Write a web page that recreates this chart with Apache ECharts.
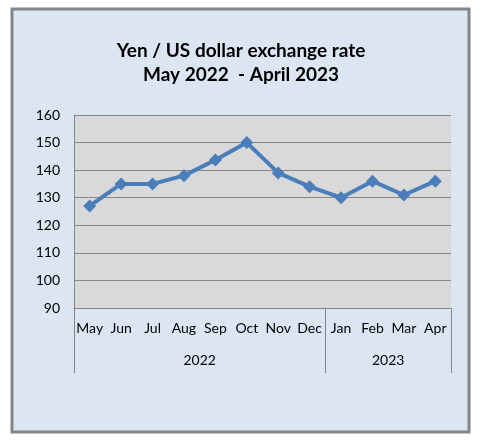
<!DOCTYPE html>
<html>
<head>
<meta charset="utf-8">
<script src="https://cdn.jsdelivr.net/npm/echarts@6/dist/echarts.min.js"></script>
<style>
  html, body { margin: 0; padding: 0; background: #fff; }
  #chart { width: 482px; height: 445px; }
</style>
</head>
<body>
<div id="chart"></div>
<script>
// 月份和汇率（从图上读出来的）
const months = ['May', 'Jun', 'Jul', 'Aug', 'Sep', 'Oct', 'Nov', 'Dec', 'Jan', 'Feb', 'Mar', 'Apr']
const rates = [127, 135, 135, 138, 143.7, 150, 139, 134, 130, 136, 131, 136]
// 第二层的年份，以及每年包含几个月
const years = ['2022', '2023']
const yearSpans = [8, 4]
const yTicks = [90, 100, 110, 120, 130, 140, 150, 160]

// 年份分隔线和年份标签的位置
let bounds = [0]
let centers = []
for (let i = 0; i < yearSpans.length; i++) {
  centers.push(bounds[i] + yearSpans[i] / 2)
  bounds.push(bounds[i] + yearSpans[i])
}

const font = 'Lato'
const chart = echarts.init(document.getElementById('chart'))
chart.setOption({
  backgroundColor: '#ffffff',
  animation: false,
  textStyle: {fontFamily: font},
  graphic: [{
    type: 'rect',
    z: -10,
    shape: {x: 12, y: 9, width: 457, height: 423},
    style: {fill: '#dce6f2', stroke: '#848484', lineWidth: 3}
  }],
  title: {
    text: 'Yen / US dollar exchange rate\nMay 2022  - April 2023',
    left: 236,
    top: 34,
    textAlign: 'center',
    textStyle: {fontFamily: font, fontSize: 19, fontWeight: 'bold', color: '#000', lineHeight: 24}
  },
  grid: {
    left: 74, right: 31, top: 115, bottom: 137,
    show: true, backgroundColor: '#d9d9d9', borderWidth: 0
  },
  xAxis: [
    {
      type: 'category',
      data: months,
      boundaryGap: true,
      axisLine: {lineStyle: {color: '#868686', width: 1}},
      axisTick: {show: false},
      axisLabel: {color: '#000', fontSize: 14, margin: 13, interval: 0}
    },
    {
      type: 'value',
      min: 0,
      max: months.length,
      position: 'bottom',
      axisLine: {show: false},
      splitLine: {show: false},
      axisTick: {show: true, customValues: bounds, length: 65, lineStyle: {color: '#868686', width: 1}},
      axisLabel: {
        customValues: centers,
        color: '#000', fontSize: 14, margin: 45,
        formatter: function (v) {
          return years[centers.indexOf(v)]
        }
      }
    }
  ],
  yAxis: {
    type: 'value',
    min: yTicks[0],
    max: yTicks[yTicks.length - 1],
    interval: 10,
    axisLine: {show: true, lineStyle: {color: '#868686', width: 1}},
    axisTick: {show: false},
    axisLabel: {color: '#000', fontSize: 14, margin: 14},
    splitLine: {lineStyle: {color: '#868686', width: 1}}
  },
  series: [{
    type: 'line',
    xAxisIndex: 0,
    data: rates,
    symbol: 'diamond',
    symbolSize: 13,
    lineStyle: {color: '#4a7ebb', width: 4},
    itemStyle: {color: '#4a7ebb'}
  }]
})
</script>
</body>
</html>
